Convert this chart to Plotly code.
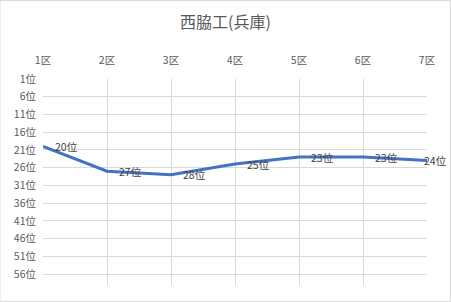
import plotly.graph_objects as go

categories = ["1区", "2区", "3区", "4区", "5区", "6区", "7区"]
ranks = [20, 27, 28, 25, 23, 23, 24]
tick_vals = [1, 6, 11, 16, 21, 26, 31, 36, 41, 46, 51, 56]
tick_text = [f"{v}位" for v in tick_vals]
labels = [f"{v}位" for v in ranks]

font_family = "Noto Sans CJK JP, Noto Sans, sans-serif"

fig = go.Figure()
fig.add_trace(go.Scatter(
    x=categories, y=ranks, mode="lines",
    line=dict(color="#4472C4", width=3),
    showlegend=False, hoverinfo="skip",
))

annotations = []
for i, (c, r, t) in enumerate(zip(categories, ranks, labels)):
    annotations.append(dict(
        x=c, y=r, text=t, showarrow=False, xanchor="left", yanchor="middle",
        xshift=(-5 if i == len(categories) - 1 else 10), yshift=0,
        font=dict(size=10.5, color="#404040", family=font_family),
    ))

fig.update_layout(
    width=451, height=302,
    margin=dict(l=43, r=24, t=79, b=17),
    paper_bgcolor="white", plot_bgcolor="white",
    title=dict(text="西脇工(兵庫)", x=0.5, xanchor="center", y=0.925, yanchor="middle",
               font=dict(size=16, color="#595959", family=font_family)),
    xaxis=dict(side="top", type="category", range=[0, 6], showgrid=True,
               gridcolor="#D9D9D9", gridwidth=1, zeroline=False, showline=False,
               ticks="", ticklabelstandoff=12,
               tickfont=dict(size=10.5, color="#595959", family=font_family)),
    yaxis=dict(range=[59.1, 1], tickvals=tick_vals, ticktext=tick_text,
               showgrid=True, gridcolor="#D9D9D9", gridwidth=1, zeroline=False,
               showline=False, ticks="", ticklabelstandoff=6,
               tickfont=dict(size=10.5, color="#595959", family=font_family)),
    annotations=annotations,
    shapes=[dict(type="rect", xref="paper", yref="paper", x0=-43/384, x1=1+23.5/384,
                 y0=-16.5/206, y1=1+78.5/206, line=dict(color="#D9D9D9", width=1))],
)

fig.write_html("out.html")
